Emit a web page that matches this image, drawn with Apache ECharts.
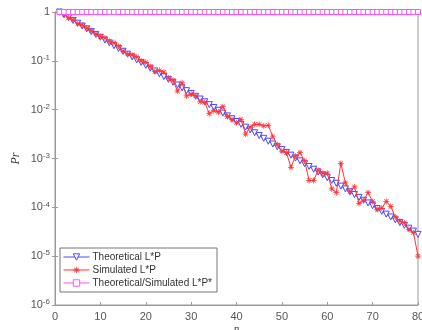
<!DOCTYPE html>
<html><head><meta charset="utf-8">
<script src="https://cdn.jsdelivr.net/npm/echarts@6/dist/echarts.min.js"></script>
<style>html,body{margin:0;padding:0;background:#fff}#c{width:422px;height:330px}</style>
</head><body><div id="c"></div>
<script>
var nValues = [1,2,3,4,5,6,7,8,9,10,11,12,13,14,15,16,17,18,19,20,21,22,23,24,25,26,27,28,29,30,31,32,33,34,35,36,37,38,39,40,41,42,43,44,45,46,47,48,49,50,51,52,53,54,55,56,57,58,59,60,61,62,63,64,65,66,67,68,69,70,71,72,73,74,75,76,77,78,79,80];
var theoretical = [1,0.876,0.767,0.672,0.589,0.516,0.452,0.396,0.347,0.304,0.266,0.233,0.204,0.179,0.157,0.137,0.120,0.105,0.0923,0.0808,0.0708,0.0620,0.0543,0.0476,0.0417,0.0365,0.0320,0.0280,0.0245,0.0215,0.0188,0.0165,0.0145,0.0127,0.0111,0.00972,0.00851,0.00746,0.00653,0.00572,0.00501,0.00439,0.00385,0.00337,0.00295,0.00259,0.00226,0.00198,0.00174,0.00152,0.00133,0.00117,0.00102,0.000896,0.000785,0.000688,0.000603,0.000528,0.000462,0.000405,0.000355,0.000311,0.000272,0.000239,0.000209,0.000183,0.000160,0.000140,0.000123,0.000108,0.0000944,0.0000827,0.0000724,0.0000635,0.0000556,0.0000487,0.0000427,0.0000374,0.0000327,0.0000280];
var simulated = [0.98,0.891,0.759,0.692,0.575,0.537,0.468,0.417,0.355,0.316,0.295,0.251,0.234,0.200,0.158,0.138,0.132,0.120,0.100,0.0933,0.0759,0.0603,0.0631,0.0589,0.0447,0.0398,0.0240,0.0355,0.0191,0.0209,0.0191,0.0145,0.0141,0.00832,0.00955,0.00891,0.0115,0.00724,0.00631,0.00537,0.00631,0.00316,0.00437,0.00501,0.00501,0.00468,0.00479,0.00282,0.00191,0.00141,0.00132,0.000661,0.00112,0.00132,0.000891,0.000355,0.000355,0.000575,0.000501,0.000501,0.000240,0.000200,0.000794,0.000316,0.000209,0.000263,0.000120,0.000138,0.000200,0.000132,0.0000912,0.0000955,0.000132,0.000105,0.0000631,0.0000525,0.0000479,0.0000355,0.0000302,0.0000100];
var combined = [1,1,1,1,1,1,1,1,1,1,1,1,1,1,1,1,1,1,1,1,1,1,1,1,1,1,1,1,1,1,1,1,1,1,1,1,1,1,1,1,1,1,1,1,1,1,1,1,1,1,1,1,1,1,1,1,1,1,1,1,1,1,1,1,1,1,1,1,1,1,1,1,1,1,1,1,1,1,1,1];
var seriesNames = ['Theoretical L*P','Simulated L*P','Theoretical/Simulated L*P*'];
var xTicks = [0,10,20,30,40,50,60,70,80];

function pairs(ys){ var out=[]; for(var i=0;i<ys.length;i++) out.push([nValues[i], ys[i]]); return out; }

var chart = echarts.init(document.getElementById('c'));
var axisCol = '#9a9a9a', labCol = '#555';
var blue = '#4848ff', red = '#ff3535', mag = '#ff50ff';
var starPath = 'path://M-0.12,-1L0.12,-1L0.12,-0.29L0.62,-0.79L0.79,-0.62L0.29,-0.12L1,-0.12L1,0.12L0.29,0.12L0.79,0.62L0.62,0.79L0.12,0.29L0.12,1L-0.12,1L-0.12,0.29L-0.62,0.79L-0.79,0.62L-0.29,0.12L-1,0.12L-1,-0.12L-0.29,-0.12L-0.79,-0.62L-0.62,-0.79L-0.12,-0.29Z';
var triDown = 'path://M-1,-0.9L1,-0.9L0,0.9Z';
function yFmt(v){
  var e = Math.round(Math.log10(v));
  if (e === 0) return '1';
  return '10{s|' + e + '}';
}
chart.setOption({
  animation:false,
  backgroundColor:'#fff',
  grid:{left:55,right:4,top:12,bottom:25,show:true,borderColor:axisCol,borderWidth:1,containLabel:false,outerBoundsMode:'none'},
  legend:{
    orient:'vertical', left:60, top:248,
    data:[
      {name:seriesNames[0], itemStyle:{color:'#fff',borderColor:blue,borderWidth:1}},
      {name:seriesNames[1]},
      {name:seriesNames[2], itemStyle:{color:'#fff',borderColor:mag,borderWidth:1}}
    ],
    itemWidth:26, itemHeight:8, itemGap:3,
    lineStyle:{width:1},
    backgroundColor:'#fff', borderColor:'#777', borderWidth:1, padding:[4,5,4,3],
    textStyle:{fontFamily:'Liberation Sans, Arial', fontSize:10, color:'#333', padding:[0,0,0,-2]}
  },
  xAxis:[{
    type:'value', min:0, max:80, interval:10,
    name:'n', nameLocation:'middle', nameGap:19, nameMoveOverlap:false,
    nameTextStyle:{fontFamily:'Liberation Serif, DejaVu Serif', fontStyle:'italic', fontSize:11, color:'#333'},
    axisLine:{show:true,lineStyle:{color:axisCol}},
    axisTick:{show:true,inside:true,length:3,lineStyle:{color:axisCol}},
    axisLabel:{color:labCol,fontSize:11,fontFamily:'Liberation Sans, Arial',margin:6},
    splitLine:{show:false}
  },{
    type:'value', min:0, max:80, interval:10, position:'top',
    axisLine:{show:true,lineStyle:{color:axisCol}},
    axisTick:{show:true,inside:true,length:3,lineStyle:{color:axisCol}},
    axisLabel:{show:false}, splitLine:{show:false}
  }],
  yAxis:[{
    type:'log', logBase:10, min:1e-6, max:1,
    name:'Pr', nameLocation:'middle', nameGap:33, nameRotate:90, nameMoveOverlap:false,
    nameTextStyle:{fontFamily:'Liberation Serif, DejaVu Serif', fontStyle:'italic', fontSize:12, color:'#333'},
    axisLine:{show:true,lineStyle:{color:axisCol}},
    axisTick:{show:true,inside:true,length:3,lineStyle:{color:axisCol}},
    axisLabel:{color:labCol,fontSize:11,fontFamily:'Liberation Sans, Arial',margin:5,formatter:yFmt,
      rich:{s:{fontSize:8,color:labCol,verticalAlign:'bottom',padding:[0,0,6,0]}}},
    splitLine:{show:false}, minorTick:{show:false}
  },{
    type:'log', logBase:10, min:1e-6, max:1, position:'right',
    axisLine:{show:true,lineStyle:{color:axisCol}},
    axisTick:{show:true,inside:true,length:3,lineStyle:{color:axisCol}},
    axisLabel:{show:false}, splitLine:{show:false}
  }],
  series:[{
    name:seriesNames[0], type:'line', data:pairs(theoretical),
    symbol:triDown, symbolSize:6, z:3,
    lineStyle:{color:blue,width:1},
    itemStyle:{color:'#fff',borderColor:blue,borderWidth:1}
  },{
    name:seriesNames[1], type:'line', data:pairs(simulated),
    symbol:starPath, symbolSize:6, z:4,
    lineStyle:{color:red,width:1},
    itemStyle:{color:red,borderWidth:0}
  },{
    name:seriesNames[2], type:'line', data:pairs(combined),
    symbol:'rect', symbolSize:5, z:5, clip:false,
    lineStyle:{color:mag,width:1},
    itemStyle:{color:'#fff',borderColor:mag,borderWidth:1}
  }]
});
</script></body></html>
